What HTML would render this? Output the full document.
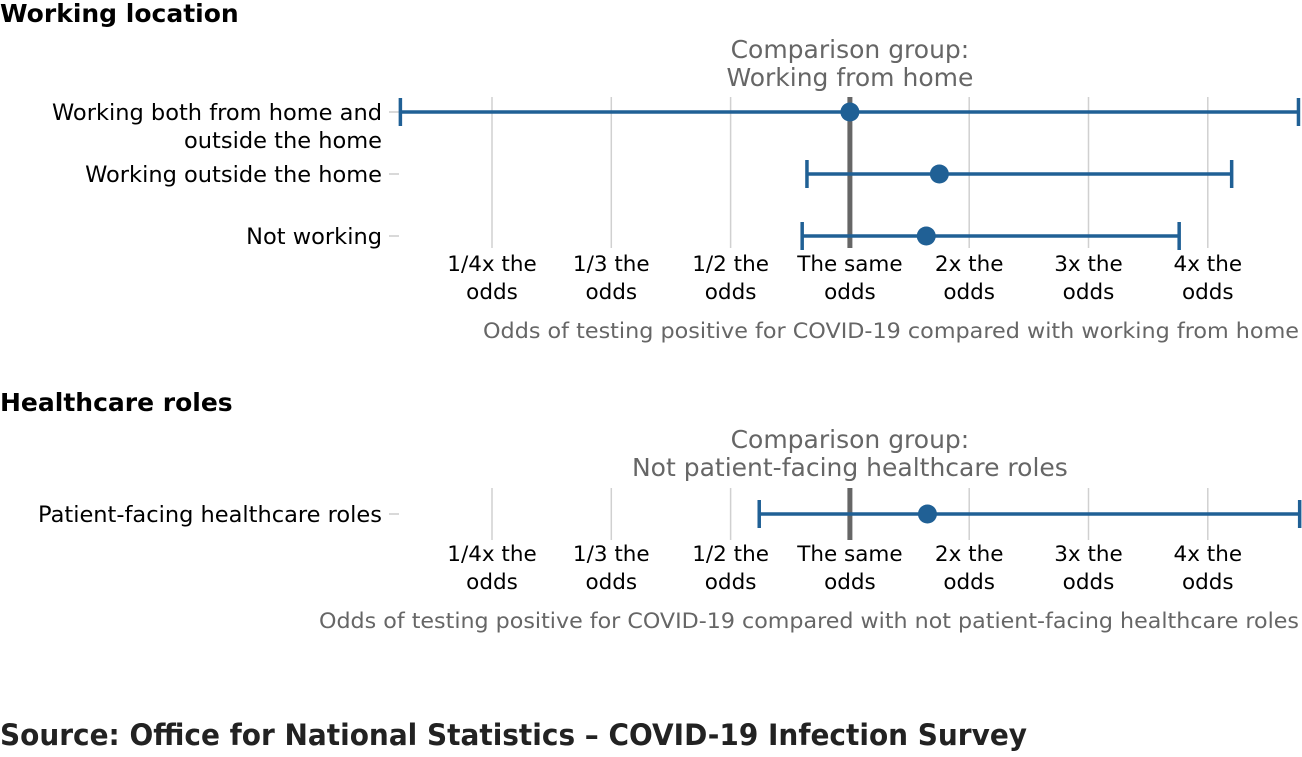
<!DOCTYPE html>
<html><head><meta charset="utf-8"><style>
body{margin:0;background:#fff;width:1302px;height:753px;overflow:hidden;font-family:"DejaVu Sans",sans-serif;}
</style></head><body>
<svg id="c" width="1302" height="753" xmlns="http://www.w3.org/2000/svg" font-family="DejaVu Sans, sans-serif"></svg>
<script>
const tickVals=[0.25,1/3,0.5,1,2,3,4];
const tickLabels=[["1/4x the","odds"],["1/3 the","odds"],["1/2 the","odds"],["The same","odds"],["2x the","odds"],["3x the","odds"],["4x the","odds"]];
const cats1=[["Working both from home and","outside the home"],["Working outside the home"],["Not working"]];
const est1=[1.0,1.75,1.64];
const lo1=[0.186,0.82,0.80];
const hi1=[4.76,4.2,3.76];
const cats2=[["Patient-facing healthcare roles"]];
const est2=[1.65];
const lo2=[0.62];
const hi2=[4.77];
const X0=492,STEP=119.3;
function x(v){
  let n=tickVals.length;
  if(v<=tickVals[0]) return X0-(tickVals[0]-v)/(tickVals[1]-tickVals[0])*STEP;
  if(v>=tickVals[n-1]) return X0+(n-1)*STEP+(v-tickVals[n-1])/(tickVals[n-1]-tickVals[n-2])*STEP;
  for(let i=0;i<n-1;i++){if(v<=tickVals[i+1]) return X0+(i+(v-tickVals[i])/(tickVals[i+1]-tickVals[i]))*STEP;}
}
const svg=document.getElementById('c');const NS="http://www.w3.org/2000/svg";
function el(t,a,p){const e=document.createElementNS(NS,t);for(const k in a)e.setAttribute(k,a[k]);(p||svg).appendChild(e);return e;}
function txt(s,xx,yy,a){const e=el('text',Object.assign({x:xx,y:yy},a));e.textContent=s;return e;}
function fit(e,w){const b=e.getComputedTextLength();if(b>0){e.setAttribute('textLength',w);e.setAttribute('lengthAdjust','spacingAndGlyphs');}}
function panel(title,ty,cmp,cy,cats,est,lo,hi,rowY,gTop,gBot,tickY,axisTitle,ay,axW){
  let t=txt(title,0,ty,{'font-size':25,'font-weight':'bold',fill:'#000'});
  
  
  tickVals.forEach((v,i)=>{
    let g=el('line',{x1:x(v),x2:x(v),y1:gTop,y2:gBot,stroke:'#d0d0d0','stroke-width':1.5});
    
    
    tickLabels[i].forEach((s,j)=>{let l=txt(s,x(v),tickY+j*28,{'font-size':21.5,'text-anchor':'middle',fill:'#000'});
      
      });
  });
  let r=el('line',{x1:x(1),x2:x(1),y1:gTop,y2:gBot,stroke:'#666','stroke-width':5});
  
  
  cmp.forEach((s,j)=>{let c=txt(s,x(1),cy+j*28,{'font-size':25,'text-anchor':'middle',fill:'#666'});
    
    });
  cats.forEach((lab,i)=>{
    let y=rowY[i];
    lab.forEach((s,j)=>{let l=txt(s,382,y+8+j*28,{'font-size':22.5,'text-anchor':'end',fill:'#000'});
      
      });
    let tk=el('line',{x1:389,x2:399,y1:y,y2:y,stroke:'#ccc','stroke-width':1.5});
    
    
    let g=el('g',{stroke:'#206095','stroke-width':3.5});
    
    
    el('line',{x1:x(lo[i]),x2:x(hi[i]),y1:y,y2:y},g);
    el('line',{x1:x(lo[i]),x2:x(lo[i]),y1:y-14,y2:y+14},g);
    el('line',{x1:x(hi[i]),x2:x(hi[i]),y1:y-14,y2:y+14},g);
    let d=el('circle',{cx:x(est[i]),cy:y,r:9.5,fill:'#206095'});
    
    
  });
  let a=txt(axisTitle,1299,ay,{'font-size':21,'text-anchor':'end',fill:'#666'});
  
  
  fit(a,axW);
}
panel("Working location",22,["Comparison group:","Working from home"],58,cats1,est1,lo1,hi1,[112,174,236],97,248,271,"Odds of testing positive for COVID-19 compared with working from home",338,816);
panel("Healthcare roles",411,["Comparison group:","Not patient-facing healthcare roles"],448,cats2,est2,lo2,hi2,[514],488,540,561,"Odds of testing positive for COVID-19 compared with not patient-facing healthcare roles",628,980);
let s=txt("Source: Office for National Statistics – COVID-19 Infection Survey",0,745,{'font-size':29,'font-weight':'bold',fill:'#222'});


fit(s,1027);
</script>
</body></html>
